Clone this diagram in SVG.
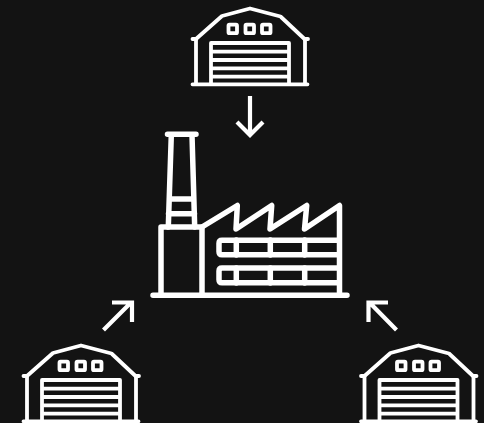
<svg xmlns="http://www.w3.org/2000/svg" xmlns:xlink="http://www.w3.org/1999/xlink" width="484" height="423" viewBox="0 0 484 423">
<style>
.l{fill:none;stroke:#fff;stroke-width:5.500;stroke-linecap:round;stroke-linejoin:round}
.t{fill:none;stroke:#fff;stroke-width:3.800;stroke-linecap:round;stroke-linejoin:round}
.a{fill:none;stroke:#fff;stroke-width:4.200;stroke-linecap:butt;stroke-linejoin:miter}
</style>
<defs>
<g id="wh">
<path class="t" d="M192.500 39 L196 39 L222 16 L250 8.500 L280.500 16.500 L304.500 39 L308 39"/>
<path class="t" d="M196 39V84M305 39V84M192.500 84.300H307.500"/>
<path class="t" d="M211 84V43H289V84M211 51.700H289M211 60H289M211 68.300H289M211 76.700H289" stroke-linecap="butt"/>
<rect class="t" x="228.500" y="24.700" width="8.500" height="8.500" rx="1"/>
<rect class="t" x="245.500" y="24.700" width="8.500" height="8.500" rx="1"/>
<rect class="t" x="262" y="24.700" width="8.500" height="8.500" rx="1"/>
</g>
</defs>
<rect width="484" height="423" fill="#131313"/>
<g id="warehouse-top"><use href="#wh"/></g>
<g id="warehouse-left"><use href="#wh" x="-169" y="337"/></g>
<g id="warehouse-right"><use href="#wh" x="168.500" y="337"/></g>
<g id="factory">
<path class="l" d="M167.500 134.300H196M153 295.300H347"/>
<path class="l" stroke-linecap="butt" d="M171.300 135L168.300 227M192 135L194.700 227M169.500 199H193.500M168.500 213.700H194.500"/>
<path class="l" d="M161 295V227H202V295"/>
<path class="l" d="M202 227L237.300 205.500L236 229L271.700 205.500L270 229L306.700 205.500L304.500 229L339.500 205.500V295"/>
<path class="l" stroke-linecap="butt" d="M339 240.300H222Q219 240.300 219 243.300V251.700Q219 254.700 222 254.700H339M339 268H222Q219 268 219 271V279.700Q219 282.700 222 282.700H339"/>
<path class="l" stroke-linecap="butt" d="M236.300 240V255M270.300 240V255M304.700 240V255M236.300 268V283M270.300 268V283M304.700 268V283"/>
</g>
<g id="connectors">
<path class="a" d="M250 96V135M237 122L250 135L263 122"/>
<path class="a" d="M103.500 330L131 302.500M112 302.500H132V322"/>
<path class="a" d="M396.500 330L369.500 302.500M388 302.500H368.500V322"/>
</g>
</svg>
